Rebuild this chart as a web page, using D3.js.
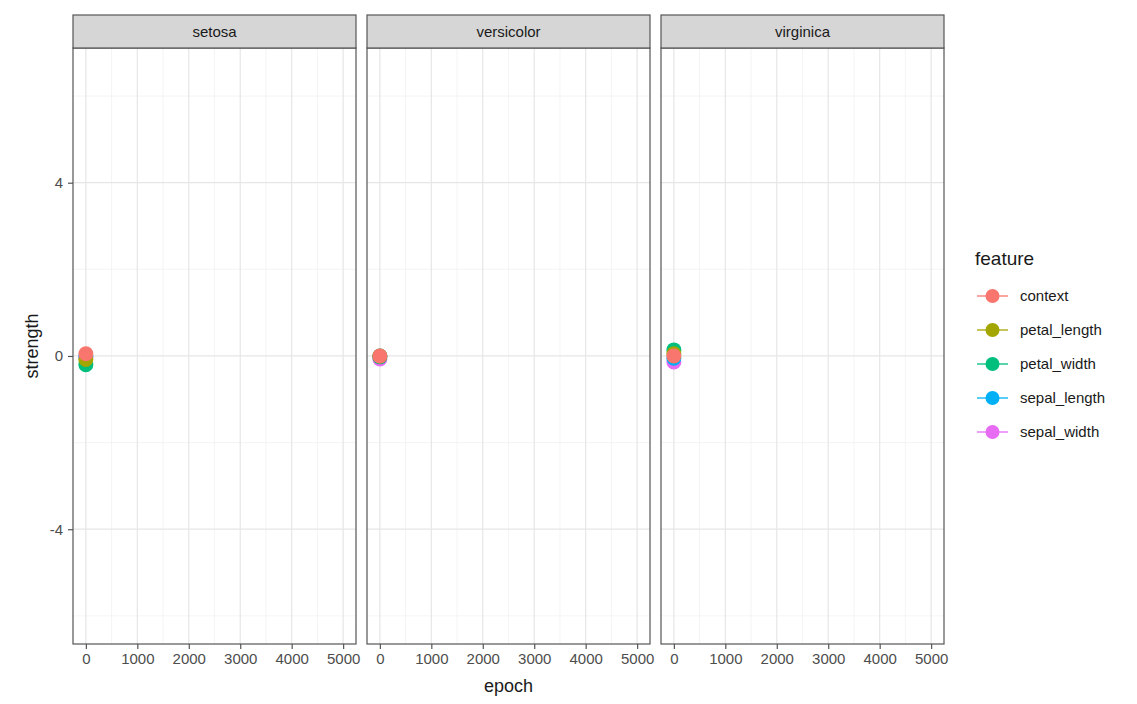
<!DOCTYPE html>
<html>
<head>
<meta charset="utf-8">
<script src="https://cdn.jsdelivr.net/npm/d3@7"></script>
<style>
  html, body { margin: 0; padding: 0; background: #ffffff; }
  svg { display: block; font-family: "Liberation Sans", Arial, sans-serif; }
</style>
</head>
<body>
<svg id="chart" width="1137" height="704"></svg>
<script>
// Facets, features and the strength of each feature at epoch 0
const species = ["setosa", "versicolor", "virginica"];
const features = ["context", "petal_length", "petal_width", "sepal_length", "sepal_width"];
const featureColors = ["#F8766D", "#A3A500", "#00BF7D", "#00B0F6", "#E76BF3"];
const epochs = [0];
const strengthSetosa = [0.05, -0.08, -0.2, 0.0, -0.03];
const strengthVersicolor = [0.0, 0.0, -0.02, 0.0, -0.07];
const strengthVirginica = [0.0, 0.05, 0.14, -0.05, -0.14];
const xTicks = [0, 1000, 2000, 3000, 4000, 5000];
const xMinor = [500, 1500, 2500, 3500, 4500];
const yTicks = [-4, 0, 4];
const yMinor = [-6, -2, 2, 6];

const strengthBySpecies = [strengthSetosa, strengthVersicolor, strengthVirginica];

const svg = d3.select("#chart");
const panelLefts = [73, 367, 661];
const panelW = 283;
const stripTop = 15, stripH = 33;
const panelTop = stripTop + stripH, panelBottom = 644;
const fontStack = "\"Liberation Sans\", Arial, sans-serif";

const y = d3.scaleLinear().domain([-6.65, 7.11]).range([panelBottom, panelTop]);
const color = d3.scaleOrdinal().domain(features).range(featureColors);

species.forEach((sp, i) => {
  const left = panelLefts[i];
  const x = d3.scaleLinear().domain([-250, 5250]).range([left, left + panelW]);
  const g = svg.append("g");

  // panel background
  g.append("rect").attr("x", left).attr("y", panelTop)
    .attr("width", panelW).attr("height", panelBottom - panelTop).attr("fill", "#ffffff");

  // minor grid
  g.selectAll(".vminor").data(xMinor).enter().append("line")
    .attr("x1", d => x(d)).attr("x2", d => x(d))
    .attr("y1", panelTop).attr("y2", panelBottom)
    .attr("stroke", "#f0f0f0").attr("stroke-width", 0.7);
  g.selectAll(".hminor").data(yMinor).enter().append("line")
    .attr("x1", left).attr("x2", left + panelW)
    .attr("y1", d => y(d)).attr("y2", d => y(d))
    .attr("stroke", "#f0f0f0").attr("stroke-width", 0.7);
  // major grid
  g.selectAll(".vmajor").data(xTicks).enter().append("line")
    .attr("x1", d => x(d)).attr("x2", d => x(d))
    .attr("y1", panelTop).attr("y2", panelBottom)
    .attr("stroke", "#e6e6e6").attr("stroke-width", 1.2);
  g.selectAll(".hmajor").data(yTicks).enter().append("line")
    .attr("x1", left).attr("x2", left + panelW)
    .attr("y1", d => y(d)).attr("y2", d => y(d))
    .attr("stroke", "#e6e6e6").attr("stroke-width", 1.2);

  // points: drawn in reverse legend order so context sits on top
  const vals = strengthBySpecies[i];
  const pts = features.map((f, k) => ({ feature: f, epoch: epochs[0], value: vals[k] })).reverse();
  g.selectAll(".pt").data(pts).enter().append("circle")
    .attr("cx", d => x(d.epoch)).attr("cy", d => y(d.value)).attr("r", 7.5)
    .attr("fill", d => color(d.feature));

  // panel border
  g.append("rect").attr("x", left).attr("y", panelTop)
    .attr("width", panelW).attr("height", panelBottom - panelTop)
    .attr("fill", "none").attr("stroke", "#555555").attr("stroke-width", 1.2);

  // strip
  g.append("rect").attr("x", left).attr("y", stripTop)
    .attr("width", panelW).attr("height", stripH)
    .attr("fill", "#d6d6d6").attr("stroke", "#555555").attr("stroke-width", 1.2);
  g.append("text").attr("x", left + panelW / 2).attr("y", stripTop + stripH / 2 + 5)
    .attr("text-anchor", "middle").attr("font-size", 15).attr("fill", "#1a1a1a").text(sp);

  // x axis
  const xAxis = d3.axisBottom(x).tickValues(xTicks).tickSize(5).tickPadding(4).tickFormat(d3.format("d"));
  const ax = g.append("g").attr("transform", `translate(0,${panelBottom})`).call(xAxis);
  ax.select(".domain").remove();
  ax.selectAll("line").attr("stroke", "#555555").attr("stroke-width", 1.2);
  ax.selectAll("text").attr("font-size", 15).attr("fill", "#4d4d4d").attr("font-family", fontStack);

  // y axis on the first panel only, with plain hyphen minus signs
  if (i === 0) {
    const yAxis = d3.axisLeft(y).tickValues(yTicks).tickSize(5).tickPadding(5)
      .tickFormat(d => String(d));
    const ay = g.append("g").attr("transform", `translate(${left},0)`).call(yAxis);
    ay.select(".domain").remove();
    ay.selectAll("line").attr("stroke", "#555555").attr("stroke-width", 1.2);
    ay.selectAll("text").attr("font-size", 15).attr("fill", "#4d4d4d").attr("font-family", fontStack);
  }
});

// axis titles
svg.append("text").attr("x", (panelLefts[0] + panelLefts[2] + panelW) / 2).attr("y", 692)
  .attr("text-anchor", "middle").attr("font-size", 18).attr("fill", "#1a1a1a").text("epoch");
svg.append("text").attr("transform", `translate(38,${(panelTop + panelBottom) / 2}) rotate(-90)`)
  .attr("text-anchor", "middle").attr("font-size", 18).attr("fill", "#1a1a1a").text("strength");

// legend
const legend = svg.append("g").attr("transform", "translate(975,0)");
legend.append("text").attr("x", 0).attr("y", 265).attr("font-size", 19).attr("fill", "#1a1a1a").text("feature");
features.forEach((f, k) => {
  const cy = 296 + k * 34;
  legend.append("line").attr("x1", 2).attr("x2", 33).attr("y1", cy).attr("y2", cy)
    .attr("stroke", color(f)).attr("stroke-width", 1.3);
  legend.append("circle").attr("cx", 17.5).attr("cy", cy).attr("r", 7).attr("fill", color(f));
  legend.append("text").attr("x", 45).attr("y", cy + 5).attr("font-size", 15).attr("fill", "#1a1a1a").text(f);
});
</script>
</body>
</html>
